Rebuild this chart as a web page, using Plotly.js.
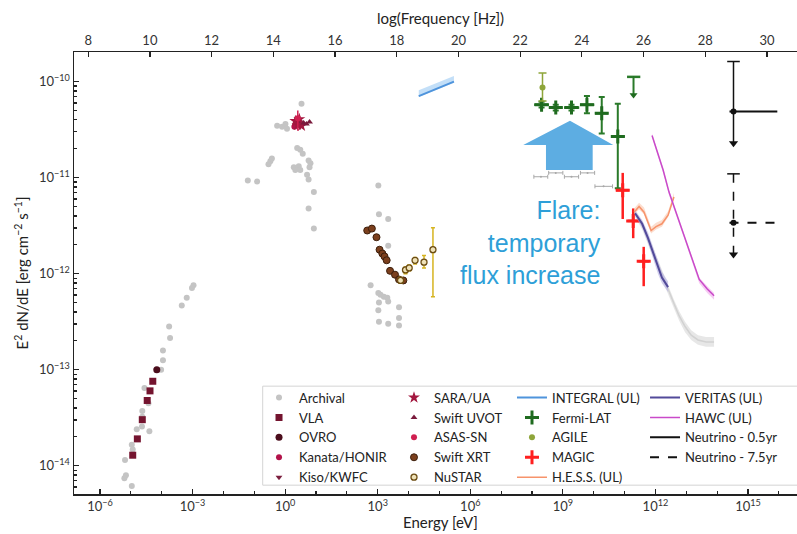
<!DOCTYPE html>
<html><head><meta charset="utf-8">
<script src="https://cdn.plot.ly/plotly-3.0.1.min.js"></script>
<style>html,body{margin:0;padding:0;background:#fff}#chart{width:797px;height:534px}</style>
</head><body><div id="chart"></div>
<script>
// ===== DATA: log10(Energy [eV]) and log10(E^2 dN/dE [erg cm^-2 s^-1]) =====
const archivalLogE = [-2.97,-3.02,-3.19,-3.35,-3.76,-3.73,-3.96,-3.96,-4.02,-4.56,-4.43,-4.63,-4.63,-4.64,-4.81,-4.40,-4.97,-4.94,-5.19,-5.16,-5.21,-4.97,
  0.53,-0.26,-0.10,0.01,0.06,0.39,0.49,0.57,-0.48,-0.54,-0.43,0.28,0.33,0.44,0.49,0.76,0.82,0.79,0.71,0.76,-1.21,-0.91,0.93,0.76,0.93,
  3.02,3.04,3.34,3.34,2.77,3.02,3.09,3.20,3.31,3.34,3.04,3.02,3.69,3.04,3.34,3.69,3.69];
const archivalLogF = [-12.12,-12.15,-12.25,-12.33,-12.55,-12.67,-12.80,-12.90,-13.00,-13.19,-13.35,-13.43,-13.49,-13.59,-13.62,-13.64,-13.78,-13.83,-13.94,-14.10,-14.13,-14.21,
  -10.23,-10.46,-10.47,-10.44,-10.49,-10.69,-10.71,-10.75,-10.83,-10.86,-10.80,-10.89,-10.92,-10.88,-10.92,-10.82,-10.85,-10.89,-10.97,-11.02,-11.03,-11.04,-11.15,-11.32,-11.53,
  -11.08,-11.38,-11.43,-11.71,-12.12,-12.20,-12.22,-12.24,-12.25,-12.29,-12.30,-12.38,-12.35,-12.50,-12.52,-12.46,-12.54];
// archival gamma-ray bins (grey bars)
const archBinLogE = [8.29, 8.77, 9.28, 9.80, 10.32];
const archBinLogElo = [8.06, 8.54, 9.05, 9.57, 10.04];
const archBinLogEhi = [8.51, 9.00, 9.51, 10.03, 10.61];
const archBinLogF = [-10.99, -10.95, -10.99, -10.95, -11.09];
// archival grey upper-limit band
const archULLogE = [11.31, 11.57, 11.79, 12.05, 12.25, 12.41, 12.60, 12.77, 12.96, 13.16, 13.38, 13.64, 13.90];
const archULLogF = [-11.36, -11.49, -11.67, -11.88, -12.04, -12.17, -12.31, -12.44, -12.55, -12.64, -12.69, -12.71, -12.71];
const archULLogFup = [-11.32, -11.45, -11.62, -11.83, -12.00, -12.12, -12.27, -12.39, -12.50, -12.59, -12.64, -12.66, -12.66];
const archULLogFlo = [-11.39, -11.54, -11.72, -11.93, -12.09, -12.22, -12.36, -12.49, -12.61, -12.69, -12.74, -12.76, -12.76];

const vlaLogE = [-4.94, -4.79, -4.63, -4.47, -4.38, -4.29];
const vlaLogF = [-13.89, -13.72, -13.52, -13.32, -13.22, -13.12];
const ovroLogE = [-4.16];
const ovroLogF = [-13.00];
const kanataLogE = [0.36, 0.30];
const kanataLogF = [-10.43, -10.47];
const kisoLogE = [0.49];
const kisoLogF = [-10.42];
const saraLogE = [0.33, 0.40, 0.46, 0.53];
const saraLogF = [-10.41, -10.45, -10.39, -10.46];
const uvotLogE = [0.60, 0.69, 0.79];
const uvotLogF = [-10.43, -10.44, -10.42];
const asasLogE = [0.41];
const asasLogF = [-10.38];
const asasLogFhi = [-10.30];
const asasLogFlo = [-10.51];
const xrtLogE = [2.66, 2.81, 2.96, 3.06, 3.15, 3.22, 3.29, 3.40, 3.56, 3.69, 3.83];
const xrtLogF = [-11.55, -11.53, -11.62, -11.75, -11.79, -11.82, -11.86, -11.97, -12.01, -12.06, -12.07];
const nustarLogE = [3.74, 3.90, 4.02, 4.21, 4.50, 4.79];
const nustarLogF = [-12.07, -11.96, -11.94, -11.86, -11.88, -11.75];
const nustarLogFhi = [-12.04, -11.93, -11.91, -11.83, -11.81, -11.52];
const nustarLogFlo = [-12.10, -12.00, -11.97, -11.90, -11.94, -12.24];
const integralLogE = [4.33, 5.47];
const integralLogF = [-10.15, -10.00];
const integralLogFup = [-10.09, -9.94];
const integralLogFlo = [-10.16, -10.01];
const fermiLogE = [8.31, 8.77, 9.28, 9.78, 10.26, 10.78];
const fermiLogElo = [8.07, 8.56, 9.04, 9.56, 10.04, 10.56];
const fermiLogEhi = [8.55, 8.99, 9.53, 10.02, 10.47, 11.01];
const fermiLogF = [-10.24, -10.27, -10.27, -10.24, -10.33, -10.57];
const fermiLogFhi = [-10.21, -10.24, -10.24, -10.15, -10.16, -10.23];
const fermiLogFlo = [-10.27, -10.30, -10.30, -10.33, -10.54, -11.11];
const fermiULLogE = [11.29];
const fermiULLogElo = [11.08];
const fermiULLogEhi = [11.51];
const fermiULLogF = [-9.95];
const fermiULLogFbot = [-10.14];
const agileLogE = [8.34];
const agileLogF = [-10.06];
const agileLogFhi = [-9.91];
const agileLogFlo = [-10.20];
const magicLogE = [10.94, 11.28, 11.62];
const magicLogElo = [10.72, 11.10, 11.45];
const magicLogEhi = [11.15, 11.48, 11.80];
const magicLogF = [-11.13, -11.45, -11.87];
const magicLogFhi = [-10.95, -11.32, -11.72];
const magicLogFlo = [-11.43, -11.63, -12.13];
const hessLogE = [11.31, 11.47, 11.63, 11.76, 11.86, 12.02, 12.21, 12.41, 12.51, 12.60];
const hessLogF = [-11.36, -11.30, -11.36, -11.46, -11.55, -11.51, -11.48, -11.39, -11.28, -11.20];
const hessLogFup = [-11.32, -11.26, -11.31, -11.42, -11.51, -11.47, -11.44, -11.35, -11.24, -11.16];
const hessLogFlo = [-11.38, -11.33, -11.38, -11.49, -11.58, -11.54, -11.51, -11.41, -11.31, -11.22];
const veritasLogE = [11.34, 11.57, 11.76, 11.92, 12.08, 12.21, 12.41];
const veritasLogF = [-11.37, -11.48, -11.63, -11.78, -11.94, -12.04, -12.14];
const veritasLogFup = [-11.34, -11.44, -11.57, -11.72, -11.87, -11.98, -12.08];
const veritasLogFlo = [-11.39, -11.52, -11.68, -11.84, -12.00, -12.10, -12.19];
const hawcLogE = [11.89, 12.05, 12.25, 12.44, 12.67, 12.93, 13.19, 13.42, 13.68, 13.90];
const hawcLogF = [-10.56, -10.71, -10.92, -11.15, -11.36, -11.60, -11.83, -12.06, -12.16, -12.23];
const hawcLogFup = [-10.54, -10.69, -10.90, -11.13, -11.34, -11.58, -11.82, -12.04, -12.13, -12.20];
const hawcLogFlo = [-10.58, -10.74, -10.95, -11.18, -11.39, -11.63, -11.87, -12.10, -12.20, -12.27];
const nuLabels = ['Neutrino - 0.5yr', 'Neutrino - 7.5yr'];
const nuLogE = [14.53, 14.53];
const nuLogElo = [14.40, 14.40];
const nuLogEhi = [15.95, 15.95];
const nuLogF = [-10.31, -11.47];
const nuLogFtop = [-9.79, -10.96];
const nuLogFbot = [-10.64, -11.80];
// axis tick labels
const energyTickExp = [-6, -3, 0, 3, 6, 9, 12, 15];
const fluxTickExp = [-14, -13, -12, -11, -10];
const freqTicks = [8, 10, 12, 14, 16, 18, 20, 22, 24, 26, 28, 30];

// ===== helpers =====
const P = v => Math.pow(10, v);
const L = a => a.map(P);
function asym(c, lo, hi, style) {
  return Object.assign({type: 'data', symmetric: false,
    array: hi.map((h, i) => P(h) - P(c[i])),
    arrayminus: lo.map((l, i) => P(c[i]) - P(l))}, style);
}
function bandTrace(xs, up, lo, color) {
  return {x: L(xs.concat(xs.slice().reverse())), y: L(up.concat(lo.slice().reverse())),
    mode: 'lines', fill: 'toself', fillcolor: color, line: {width: 0}, showlegend: false, hoverinfo: 'skip'};
}
const sup = e => '10<sup>' + (e < 0 ? '\u2212' + (-e) : e) + '</sup>';

const traces = [];
// --- column 1 legend ---
traces.push({name: 'Archival', legend: 'legend', x: L(archivalLogE), y: L(archivalLogF), mode: 'markers',
  marker: {color: '#c4c4c4', size: 6}});
traces.push({x: L(archBinLogE), y: L(archBinLogF), mode: 'markers', showlegend: false,
  marker: {color: '#a8a8a8', size: 2},
  error_x: asym(archBinLogE, archBinLogElo, archBinLogEhi, {color: '#a8a8a8', thickness: 1, width: 2})});
traces.push(bandTrace(archULLogE, archULLogFup, archULLogFlo, 'rgba(215,215,215,0.6)'));
traces.push({x: L(archULLogE), y: L(archULLogF), mode: 'lines', showlegend: false, line: {color: '#d2d2d2', width: 1.5}});
traces.push({name: 'VLA', legend: 'legend', x: L(vlaLogE), y: L(vlaLogF), mode: 'markers',
  marker: {color: '#74142f', size: 7, symbol: 'square'}});
traces.push({name: 'OVRO', legend: 'legend', x: L(ovroLogE), y: L(ovroLogF), mode: 'markers',
  marker: {color: '#4b0d1c', size: 7}});
traces.push({name: 'Kanata/HONIR', legend: 'legend', x: L(kanataLogE), y: L(kanataLogF), mode: 'markers',
  marker: {color: '#b3124a', size: 6}});
traces.push({name: 'Kiso/KWFC', legend: 'legend', x: L(kisoLogE), y: L(kisoLogF), mode: 'markers',
  marker: {color: '#7b1f3f', size: 6, symbol: 'triangle-down'}});
// --- column 2 legend ---
traces.push({name: 'SARA/UA', legend: 'legend2', x: L(saraLogE), y: L(saraLogF), mode: 'markers',
  marker: {color: '#a3173f', size: 9, symbol: 'star'}});
traces.push({name: 'Swift UVOT', legend: 'legend2', x: L(uvotLogE), y: L(uvotLogF), mode: 'markers',
  marker: {color: '#7a1a3c', size: 6, symbol: 'triangle-up'}});
traces.push({name: 'ASAS-SN', legend: 'legend2', x: L(asasLogE), y: L(asasLogF), mode: 'markers',
  marker: {color: '#d01f50', size: 6},
  error_y: asym(asasLogF, asasLogFlo, asasLogFhi, {color: '#d01f50', thickness: 1.5, width: 0})});
traces.push({name: 'Swift XRT', legend: 'legend2', x: L(xrtLogE), y: L(xrtLogF), mode: 'markers',
  marker: {color: '#7b3f1d', size: 7, line: {color: '#3d1f0c', width: 1}}});
traces.push({name: 'NuSTAR', legend: 'legend2', x: L(nustarLogE), y: L(nustarLogF), mode: 'markers',
  marker: {color: '#efe2b8', size: 6, line: {color: '#6b4c12', width: 1.3}},
  error_y: asym(nustarLogF, nustarLogFlo, nustarLogFhi, {color: '#d6b420', thickness: 1.5, width: 2})});
// --- column 3 legend ---
traces.push(bandTrace(integralLogE, integralLogFup, integralLogFlo, 'rgba(170,210,245,0.7)'));
traces.push({name: 'INTEGRAL (UL)', legend: 'legend3', x: L(integralLogE), y: L(integralLogF), mode: 'lines',
  line: {color: '#4f94dc', width: 2}});
traces.push({name: 'Fermi-LAT', legend: 'legend3', x: L(fermiLogE), y: L(fermiLogF), mode: 'markers',
  marker: {color: '#1f6b1f', size: 10, symbol: 'cross-thin-open', line: {color: '#1f6b1f', width: 3}},
  error_x: asym(fermiLogE, fermiLogElo, fermiLogEhi, {color: '#2a7a2a', thickness: 2.5, width: 0}),
  error_y: asym(fermiLogF, fermiLogFlo, fermiLogFhi, {color: '#2a7a2a', thickness: 2, width: 3})});
traces.push({x: L(fermiULLogE), y: L(fermiULLogF), mode: 'markers', showlegend: false,
  marker: {color: '#1f6b1f', size: 1},
  error_x: asym(fermiULLogE, fermiULLogElo, fermiULLogEhi, {color: '#2a7a2a', thickness: 2.5, width: 0}),
  error_y: asym(fermiULLogF, fermiULLogFbot, fermiULLogF, {color: '#2a7a2a', thickness: 2, width: 0})});
traces.push({x: L(fermiULLogE), y: L(fermiULLogFbot), mode: 'markers', showlegend: false,
  marker: {color: '#1f6b1f', size: 7, symbol: 'triangle-down'}});
traces.push({name: 'AGILE', legend: 'legend3', x: L(agileLogE), y: L(agileLogF), mode: 'markers',
  marker: {color: '#8ea53a', size: 6},
  error_y: asym(agileLogF, agileLogFlo, agileLogFhi, {color: '#8ea53a', thickness: 1.5, width: 4})});
traces.push({name: 'MAGIC', legend: 'legend3', x: L(magicLogE), y: L(magicLogF), mode: 'markers',
  marker: {color: '#ff1f1f', size: 10, symbol: 'cross-thin-open', line: {color: '#ff1f1f', width: 3}},
  error_x: asym(magicLogE, magicLogElo, magicLogEhi, {color: '#ff1f1f', thickness: 2.5, width: 0}),
  error_y: asym(magicLogF, magicLogFlo, magicLogFhi, {color: '#ff1f1f', thickness: 2.5, width: 0})});
traces.push(bandTrace(hessLogE, hessLogFup, hessLogFlo, 'rgba(250,200,175,0.6)'));
traces.push({name: 'H.E.S.S. (UL)', legend: 'legend3', x: L(hessLogE), y: L(hessLogF), mode: 'lines',
  line: {color: '#f7936b', width: 1.5}});
// --- column 4 legend ---
traces.push(bandTrace(veritasLogE, veritasLogFup, veritasLogFlo, 'rgba(180,175,225,0.6)'));
traces.push({name: 'VERITAS (UL)', legend: 'legend4', x: L(veritasLogE), y: L(veritasLogF), mode: 'lines',
  line: {color: '#524a9a', width: 2}});
traces.push(bandTrace(hawcLogE, hawcLogFup, hawcLogFlo, 'rgba(240,170,235,0.6)'));
traces.push({name: 'HAWC (UL)', legend: 'legend4', x: L(hawcLogE), y: L(hawcLogF), mode: 'lines',
  line: {color: '#c94ac9', width: 1.5}});
nuLabels.forEach((lab, i) => {
  const dash = i === 0 ? 'solid' : 'dash';
  traces.push({name: lab, legend: 'legend4', x: [P(nuLogElo[i]), P(nuLogEhi[i])], y: [P(nuLogF[i]), P(nuLogF[i])],
    mode: 'lines', line: {color: '#111', width: 2, dash: dash}});
  traces.push({x: [P(nuLogE[i]), P(nuLogE[i])], y: [P(nuLogFtop[i]), P(nuLogFbot[i])], mode: 'lines', showlegend: false,
    line: {color: '#111', width: 1.5, dash: dash}});
  traces.push({x: [P(nuLogE[i])], y: [P(nuLogFtop[i])], mode: 'markers', showlegend: false,
    marker: {symbol: 'line-ew-open', size: 9, color: '#111', line: {color: '#111', width: 1.5}}});
  traces.push({x: [P(nuLogE[i])], y: [P(nuLogFbot[i])], mode: 'markers', showlegend: false,
    marker: {symbol: 'triangle-down', size: 8, color: '#111'}});
  traces.push({x: [P(nuLogE[i])], y: [P(nuLogF[i])], mode: 'markers', showlegend: false,
    marker: {symbol: 'circle', size: 6, color: '#111'}});
});
// dummy trace for top frequency axis
traces.push({x: [null], y: [null], xaxis: 'x2', yaxis: 'y', showlegend: false, hoverinfo: 'skip'});

// minor tick positions
const xMinor = [];
for (let e = -7; e <= 16; e++) if (e % 3 !== 0) xMinor.push(P(e));
const yMinor = [];
for (let e = -15; e <= -10; e++) for (let m = 2; m <= 9; m++) yMinor.push(m * P(e));

const axisLine = {showline: true, linecolor: '#222', linewidth: 1.5, showgrid: false, zeroline: false,
  ticks: 'inside', ticklen: 5, tickwidth: 1.2, tickcolor: '#222', tickfont: {family: 'Lato', size: 13, color: '#333'}};
const legBase = {bgcolor: 'rgba(0,0,0,0)', borderwidth: 0, font: {family: 'Lato', size: 13, color: '#222'},
  xanchor: 'left', yanchor: 'top', y: 0.252, tracegroupgap: 0, orientation: 'v'};

const layout = {
  width: 797, height: 534,
  margin: {l: 74, r: 0, t: 52, b: 40},
  paper_bgcolor: '#fff', plot_bgcolor: '#fff',
  font: {family: 'Lato', size: 13, color: '#222'},
  showlegend: true,
  xaxis: Object.assign({}, axisLine, {type: 'log', range: [-6.843, 16.588], autorange: false,
    tickmode: 'array', tickvals: energyTickExp.map(P), ticktext: energyTickExp.map(sup),
    minor: {tickmode: 'array', tickvals: xMinor, ticks: 'inside', ticklen: 3, tickcolor: '#222', showgrid: false}}),
  xaxis2: Object.assign({}, axisLine, {overlaying: 'x', side: 'top', anchor: 'y', type: 'linear',
    range: [7.540, 30.972], autorange: false, tickmode: 'array', tickvals: freqTicks, ticktext: freqTicks.map(String)}),
  yaxis: Object.assign({}, axisLine, {type: 'log', range: [-14.294, -9.691], autorange: false,
    tickmode: 'array', tickvals: fluxTickExp.map(P), ticktext: fluxTickExp.map(sup),
    minor: {tickmode: 'array', tickvals: yMinor, ticks: 'inside', ticklen: 3, tickcolor: '#222', showgrid: false},
    title: {text: 'E<sup>2</sup> dN/dE [erg cm<sup>\u22122</sup> s<sup>\u22121</sup>]', font: {family: 'Lato', size: 15, color: '#222'}, standoff: 6}}),
  legend: Object.assign({}, legBase, {x: 0.2559}),
  legend2: Object.assign({}, legBase, {x: 0.4426}),
  legend3: Object.assign({}, legBase, {x: 0.6058}),
  legend4: Object.assign({}, legBase, {x: 0.7898}),
  shapes: [
    {type: 'rect', xref: 'paper', yref: 'paper', x0: 0.261, x1: 1.02, y0: 0.020, y1: 0.244,
      line: {color: '#d4d4d4', width: 1}, fillcolor: '#fff', layer: 'below'},
    {type: 'path', xref: 'paper', yref: 'paper', layer: 'below', fillcolor: '#5dade2', line: {width: 0},
      path: 'M 0.6860 0.8446 L 0.7459 0.7896 L 0.7174 0.7896 L 0.7174 0.7330 L 0.6528 0.7330 L 0.6528 0.7896 L 0.6214 0.7896 Z'}
  ],
  annotations: [
    {text: 'log(Frequency [Hz])', xref: 'paper', yref: 'paper', x: 0.5076, y: 1.0769, showarrow: false,
      xanchor: 'center', yanchor: 'middle', font: {family: 'Lato', size: 15, color: '#222'}},
    {text: 'Energy [eV]', xref: 'paper', yref: 'paper', x: 0.5076, y: -0.0633, showarrow: false,
      xanchor: 'center', yanchor: 'middle', font: {family: 'Lato', size: 15, color: '#222'}},
    {text: 'Flare:<br>temporary<br>flux increase', xref: 'paper', yref: 'paper', x: 0.7317, y: 0.570,
      showarrow: false, xanchor: 'right', yanchor: 'middle', align: 'right',
      font: {family: 'Liberation Sans, Arial', size: 25, color: '#2e9fd8'}}
  ]
};

Plotly.newPlot('chart', traces, layout, {staticPlot: true, displayModeBar: false});
</script>
</body></html>
